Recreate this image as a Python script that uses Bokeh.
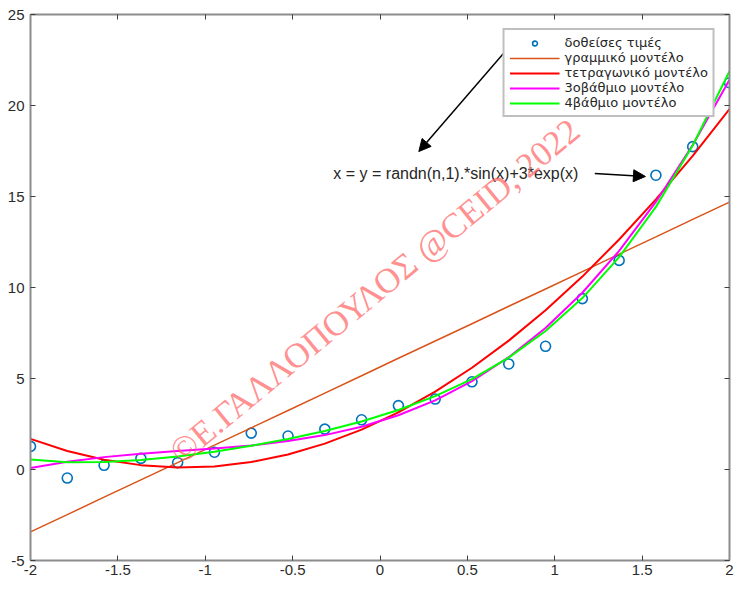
from bokeh.plotting import figure
from bokeh.models import (LinearAxis, FixedTicker, CustomJSTickFormatter, Arrow, NormalHead,
                          Range1d, Label)
from bokeh.embed import file_html
from bokeh.resources import INLINE

# data points
x_data = [-2.0, -1.7895, -1.5789, -1.3684, -1.1579, -0.9474, -0.7368, -0.5263, -0.3158, -0.1053,
          0.1053, 0.3158, 0.5263, 0.7368, 0.9474, 1.1579, 1.3684, 1.5789, 1.7895, 2.0]
y_data = [1.27, -0.47, 0.23, 0.61, 0.38, 0.95, 2.00, 1.84, 2.22, 2.73,
          3.51, 3.87, 4.82, 5.80, 6.77, 9.39, 11.49, 16.17, 17.74, 21.25]

# model curves evaluated at the data x positions
y_lin = [-3.43, -2.48, -1.52, -0.57, 0.38, 1.34, 2.29, 3.24, 4.20, 5.15,
         6.11, 7.06, 8.01, 8.97, 9.92, 10.87, 11.83, 12.78, 13.74, 14.69]
y_quad = [1.68, 1.02, 0.54, 0.24, 0.11, 0.17, 0.41, 0.82, 1.42, 2.19,
          3.14, 4.28, 5.59, 7.08, 8.75, 10.60, 12.64, 14.84, 17.23, 19.80]
y_cub = [0.08, 0.43, 0.68, 0.86, 1.01, 1.15, 1.32, 1.56, 1.89, 2.35,
         2.98, 3.80, 4.85, 6.17, 7.77, 9.71, 12.01, 14.70, 17.83, 21.41]
y_quart = [0.55, 0.40, 0.41, 0.52, 0.72, 0.98, 1.30, 1.68, 2.12, 2.64,
           3.27, 4.03, 4.97, 6.15, 7.61, 9.42, 11.67, 14.43, 17.80, 21.88]

labels = ["δοθείσες τιμές", "γραμμικό μοντέλο", "τετραγωνικό μοντέλο",
          "3οβάθμιο μοντέλο", "4βάθμιο μοντέλο"]
x_ticks = [-2, -1.5, -1, -0.5, 0, 0.5, 1, 1.5, 2]
y_ticks = [-5, 0, 5, 10, 15, 20, 25]

annot_text = "x = y = randn(n,1).*sin(x)+3*exp(x)"
watermark = "©Ε.ΓΑΛΛΟΠΟΥΛΟΣ @CEID, 2022"

p = figure(width=734, height=580, output_backend="svg", toolbar_location=None,
           x_range=Range1d(-2, 2), y_range=Range1d(-5, 25),
           min_border_left=30, min_border_right=5, min_border_top=14, min_border_bottom=20)
p.grid.visible = False
p.outline_line_color = None
p.background_fill_color = "white"
p.border_fill_color = "white"

fmt = CustomJSTickFormatter(code="return tick.toString();")
empty = CustomJSTickFormatter(code="return '';")


def style_axis(ax, ticks, show_labels):
    ax.ticker = FixedTicker(ticks=ticks)
    ax.axis_line_color = "#8c8c8c"
    ax.axis_line_width = 2
    ax.major_tick_line_color = "#404040"
    ax.major_tick_line_width = 1
    ax.major_tick_in = 5
    ax.major_tick_out = 0
    ax.minor_tick_line_color = None
    if show_labels:
        ax.formatter = fmt
        ax.major_label_text_font = "Liberation Sans"
        ax.major_label_text_font_size = "15px"
        ax.major_label_text_color = "#2b2b2b"
    else:
        ax.formatter = empty
        ax.major_label_text_font_size = "1px"
        ax.major_label_standoff = 0


style_axis(p.xaxis[0], x_ticks, True)
p.xaxis[0].major_label_standoff = 4
style_axis(p.yaxis[0], y_ticks, True)
p.yaxis[0].major_label_standoff = 6

top = LinearAxis()
style_axis(top, x_ticks, False)
p.add_layout(top, "above")
right = LinearAxis()
style_axis(right, y_ticks, False)
p.add_layout(right, "right")

p.scatter(x_data, y_data, marker="circle", size=10, fill_color=None, line_color="#0072BD",
          line_width=1.6, legend_label=labels[0])
p.line(x_data, y_lin, line_color="#D95319", line_width=1.5, legend_label=labels[1])
p.line(x_data, y_quad, line_color="#FF0000", line_width=2, legend_label=labels[2])
p.line(x_data, y_cub, line_color="#FF00FF", line_width=2, legend_label=labels[3])
p.line(x_data, y_quart, line_color="#00FF00", line_width=2, legend_label=labels[4])

lg = p.legend[0]
lg.location = "top_right"
lg.margin = 14
lg.padding = 5
lg.spacing = 0
lg.glyph_width = 50
lg.glyph_height = 12
lg.label_height = 12
lg.label_standoff = 5
lg.label_text_font = "DejaVu Sans"
lg.label_text_font_size = "13px"
lg.label_text_line_height = 1.0
lg.label_text_color = "#262626"
lg.border_line_color = "#808080"
lg.border_line_width = 2
lg.background_fill_color = "white"
lg.background_fill_alpha = 1

p.add_layout(Label(x=-0.267, y=16.29, text=annot_text, text_baseline="middle",
                   text_font="Liberation Sans", text_font_size="16px", text_color="#262626"))

p.add_layout(Arrow(end=NormalHead(size=12, fill_color="black", line_color="black"),
                   x_start=1.229, y_start=16.27, x_end=1.519, y_end=16.10,
                   line_color="black", line_width=1.5))
p.add_layout(Arrow(end=NormalHead(size=12, fill_color="black", line_color="black"),
                   x_start=0.769, y_start=23.55, x_end=0.222, y_end=17.47,
                   line_color="black", line_width=1.5))

p.add_layout(Label(x=-0.03, y=9.8, text=watermark, angle=0.69, text_align="center",
                   text_baseline="middle", text_font="Liberation Serif", text_font_size="35px",
                   text_color="#ff6060", text_alpha=0.7))

open("out.html", "w").write(file_html(p, INLINE))
